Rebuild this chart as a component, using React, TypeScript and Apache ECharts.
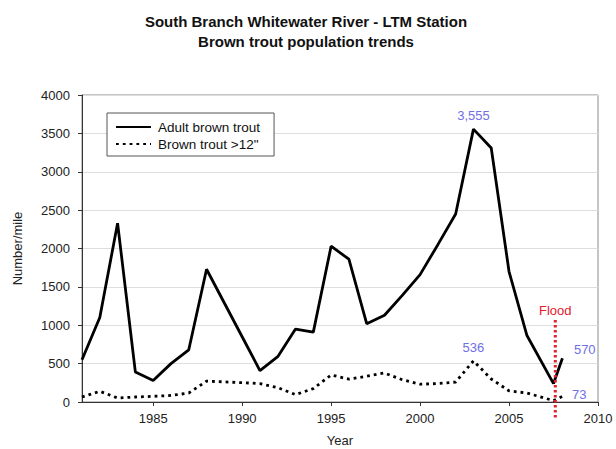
import React, { useEffect, useRef } from "react";
import * as echarts from "echarts";

const years = [
  1981, 1982, 1983, 1984, 1985, 1986, 1987, 1988, 1989, 1990, 1991, 1992, 1993, 1994,
  1995, 1996, 1997, 1998, 1999, 2000, 2001, 2002, 2003, 2004, 2005, 2006, 2007.5, 2008,
];
const adult = [
  550, 1100, 2330, 390, 280, 500, 680, 1730, 1290, 850, 410, 590, 950, 910,
  2030, 1860, 1020, 1130, 1390, 1660, 2050, 2450, 3555, 3310, 1700, 870, 240, 570,
];
const large = [
  65, 140, 52, 65, 74, 85, 117, 272, 262, 252, 240, 187, 96, 175,
  352, 298, 335, 378, 290, 232, 240, 260, 536, 300, 145, 117, 18, 73,
];
const xTicks = [1985, 1990, 1995, 2000, 2005, 2010];
const floodYear = 2007.6;
const floodTop = 1070;

const FONT = "Liberation Sans, Arial, sans-serif";
const LABEL_BLUE = "#6f6fe6";

function buildData(vals: number[], labels: Record<number, any>) {
  return years.map((y, i) => {
    const lab = labels[y];
    if (lab) return { value: [y, vals[i]], label: { show: true, ...lab } };
    return { value: [y, vals[i]] };
  });
}

export default function App() {
  const ref = useRef<HTMLDivElement>(null);
  useEffect(() => {
    if (!ref.current) return;
    const chart = echarts.init(ref.current, undefined, { renderer: "svg" });
    const labelBase = { color: LABEL_BLUE, fontSize: 13, fontFamily: FONT };
    chart.setOption({
      animation: false,
      backgroundColor: "#ffffff",
      textStyle: { fontFamily: FONT },
      title: {
        text: "South Branch Whitewater River - LTM Station\nBrown trout population trends",
        left: 301,
        top: 6,
        textAlign: "center",
        textStyle: { fontFamily: FONT, fontSize: 15, fontWeight: "bold", color: "#111", lineHeight: 20 },
      },
      legend: {
        orient: "vertical",
        left: 107,
        top: 113,
        padding: [7, 14, 5, 8],
        itemWidth: 35,
        itemHeight: 12,
        itemGap: 3,
        borderColor: "#555",
        borderWidth: 1,
        backgroundColor: "#fff",
        itemStyle: { color: "transparent", opacity: 0, borderWidth: 0 },
        textStyle: { fontFamily: FONT, fontSize: 13.5, color: "#111", padding: [0, 0, 0, 2] },
        data: ["Adult brown trout", "Brown trout >12\""],
      },
      grid: {
        left: 82,
        right: 18,
        top: 95,
        bottom: 47,
        outerBoundsMode: "none",
        containLabel: false,
        show: true,
        borderColor: "#8a8a8a",
        borderWidth: 1,
      },
      xAxis: {
        type: "value",
        min: 1981,
        max: 2010,
        name: "Year",
        nameLocation: "middle",
        nameGap: 32,
        nameTextStyle: { fontFamily: FONT, fontSize: 13, color: "#222" },
        axisLine: { show: true, lineStyle: { color: "#333", width: 1 } },
        axisTick: { show: true, length: 4, customValues: xTicks, lineStyle: { color: "#333" } },
        axisLabel: {
          customValues: xTicks,
          formatter: (v: number) => String(v),
          fontFamily: FONT,
          fontSize: 13,
          color: "#222",
          margin: 10,
        },
        splitLine: { show: false },
      },
      yAxis: {
        type: "value",
        min: 0,
        max: 4000,
        interval: 500,
        name: "Number/mile",
        nameLocation: "middle",
        nameRotate: 90,
        nameGap: 58,
        nameTextStyle: { fontFamily: FONT, fontSize: 13, color: "#222" },
        axisLine: { show: true, lineStyle: { color: "#333", width: 1 } },
        axisTick: { show: true, length: 4, lineStyle: { color: "#333" } },
        axisLabel: {
          formatter: (v: number) => String(v),
          fontFamily: FONT,
          fontSize: 13,
          color: "#222",
          margin: 12,
        },
        splitLine: { show: true, lineStyle: { color: "#dedede", width: 1 } },
      },
      series: [
        {
          name: "Adult brown trout",
          type: "line",
          symbol: "circle",
          symbolSize: 1,
          showSymbol: true,
          lineStyle: { color: "#000", width: 2.8, type: "solid" },
          itemStyle: { color: "transparent", borderWidth: 0 },
          emphasis: { disabled: true },
          data: buildData(adult, {
            2003: { ...labelBase, position: "top", distance: 7, formatter: "3,555" },
            2008: { ...labelBase, position: "right", distance: 11, offset: [0, -9], formatter: "570" },
          }),
          z: 3,
        },
        {
          name: "Brown trout >12\"",
          type: "line",
          symbol: "circle",
          symbolSize: 1,
          showSymbol: true,
          lineStyle: { color: "#000", width: 2.8, type: [2.8, 4] },
          itemStyle: { color: "transparent", borderWidth: 0 },
          emphasis: { disabled: true },
          data: buildData(large, {
            2003: { ...labelBase, position: "top", distance: 6, formatter: "536" },
            2008: { ...labelBase, position: "right", distance: 9, offset: [0, -2], formatter: "73" },
          }),
          z: 2,
        },
      ],
    });

    const x = chart.convertToPixel({ xAxisIndex: 0 }, floodYear) as number;
    const yTop = chart.convertToPixel({ yAxisIndex: 0 }, floodTop) as number;
    const yZero = chart.convertToPixel({ yAxisIndex: 0 }, 0) as number;
    chart.setOption({
      graphic: [
        {
          type: "line",
          shape: { x1: x, y1: yTop, x2: x, y2: yZero + 18 },
          style: { stroke: "#e0202a", lineWidth: 3, lineDash: [2.5, 2.5] },
          z: 10,
        },
        {
          type: "text",
          x: x,
          y: yTop - 3,
          style: {
            text: "Flood",
            fill: "#e0202a",
            font: `13px ${FONT}`,
            textAlign: "center",
            textVerticalAlign: "bottom",
          },
          z: 10,
        },
      ],
    });
    return () => chart.dispose();
  }, []);
  return (
    <div
      ref={ref}
      style={{ position: "absolute", left: 0, top: 0, width: 616, height: 449 }}
    />
  );
}
